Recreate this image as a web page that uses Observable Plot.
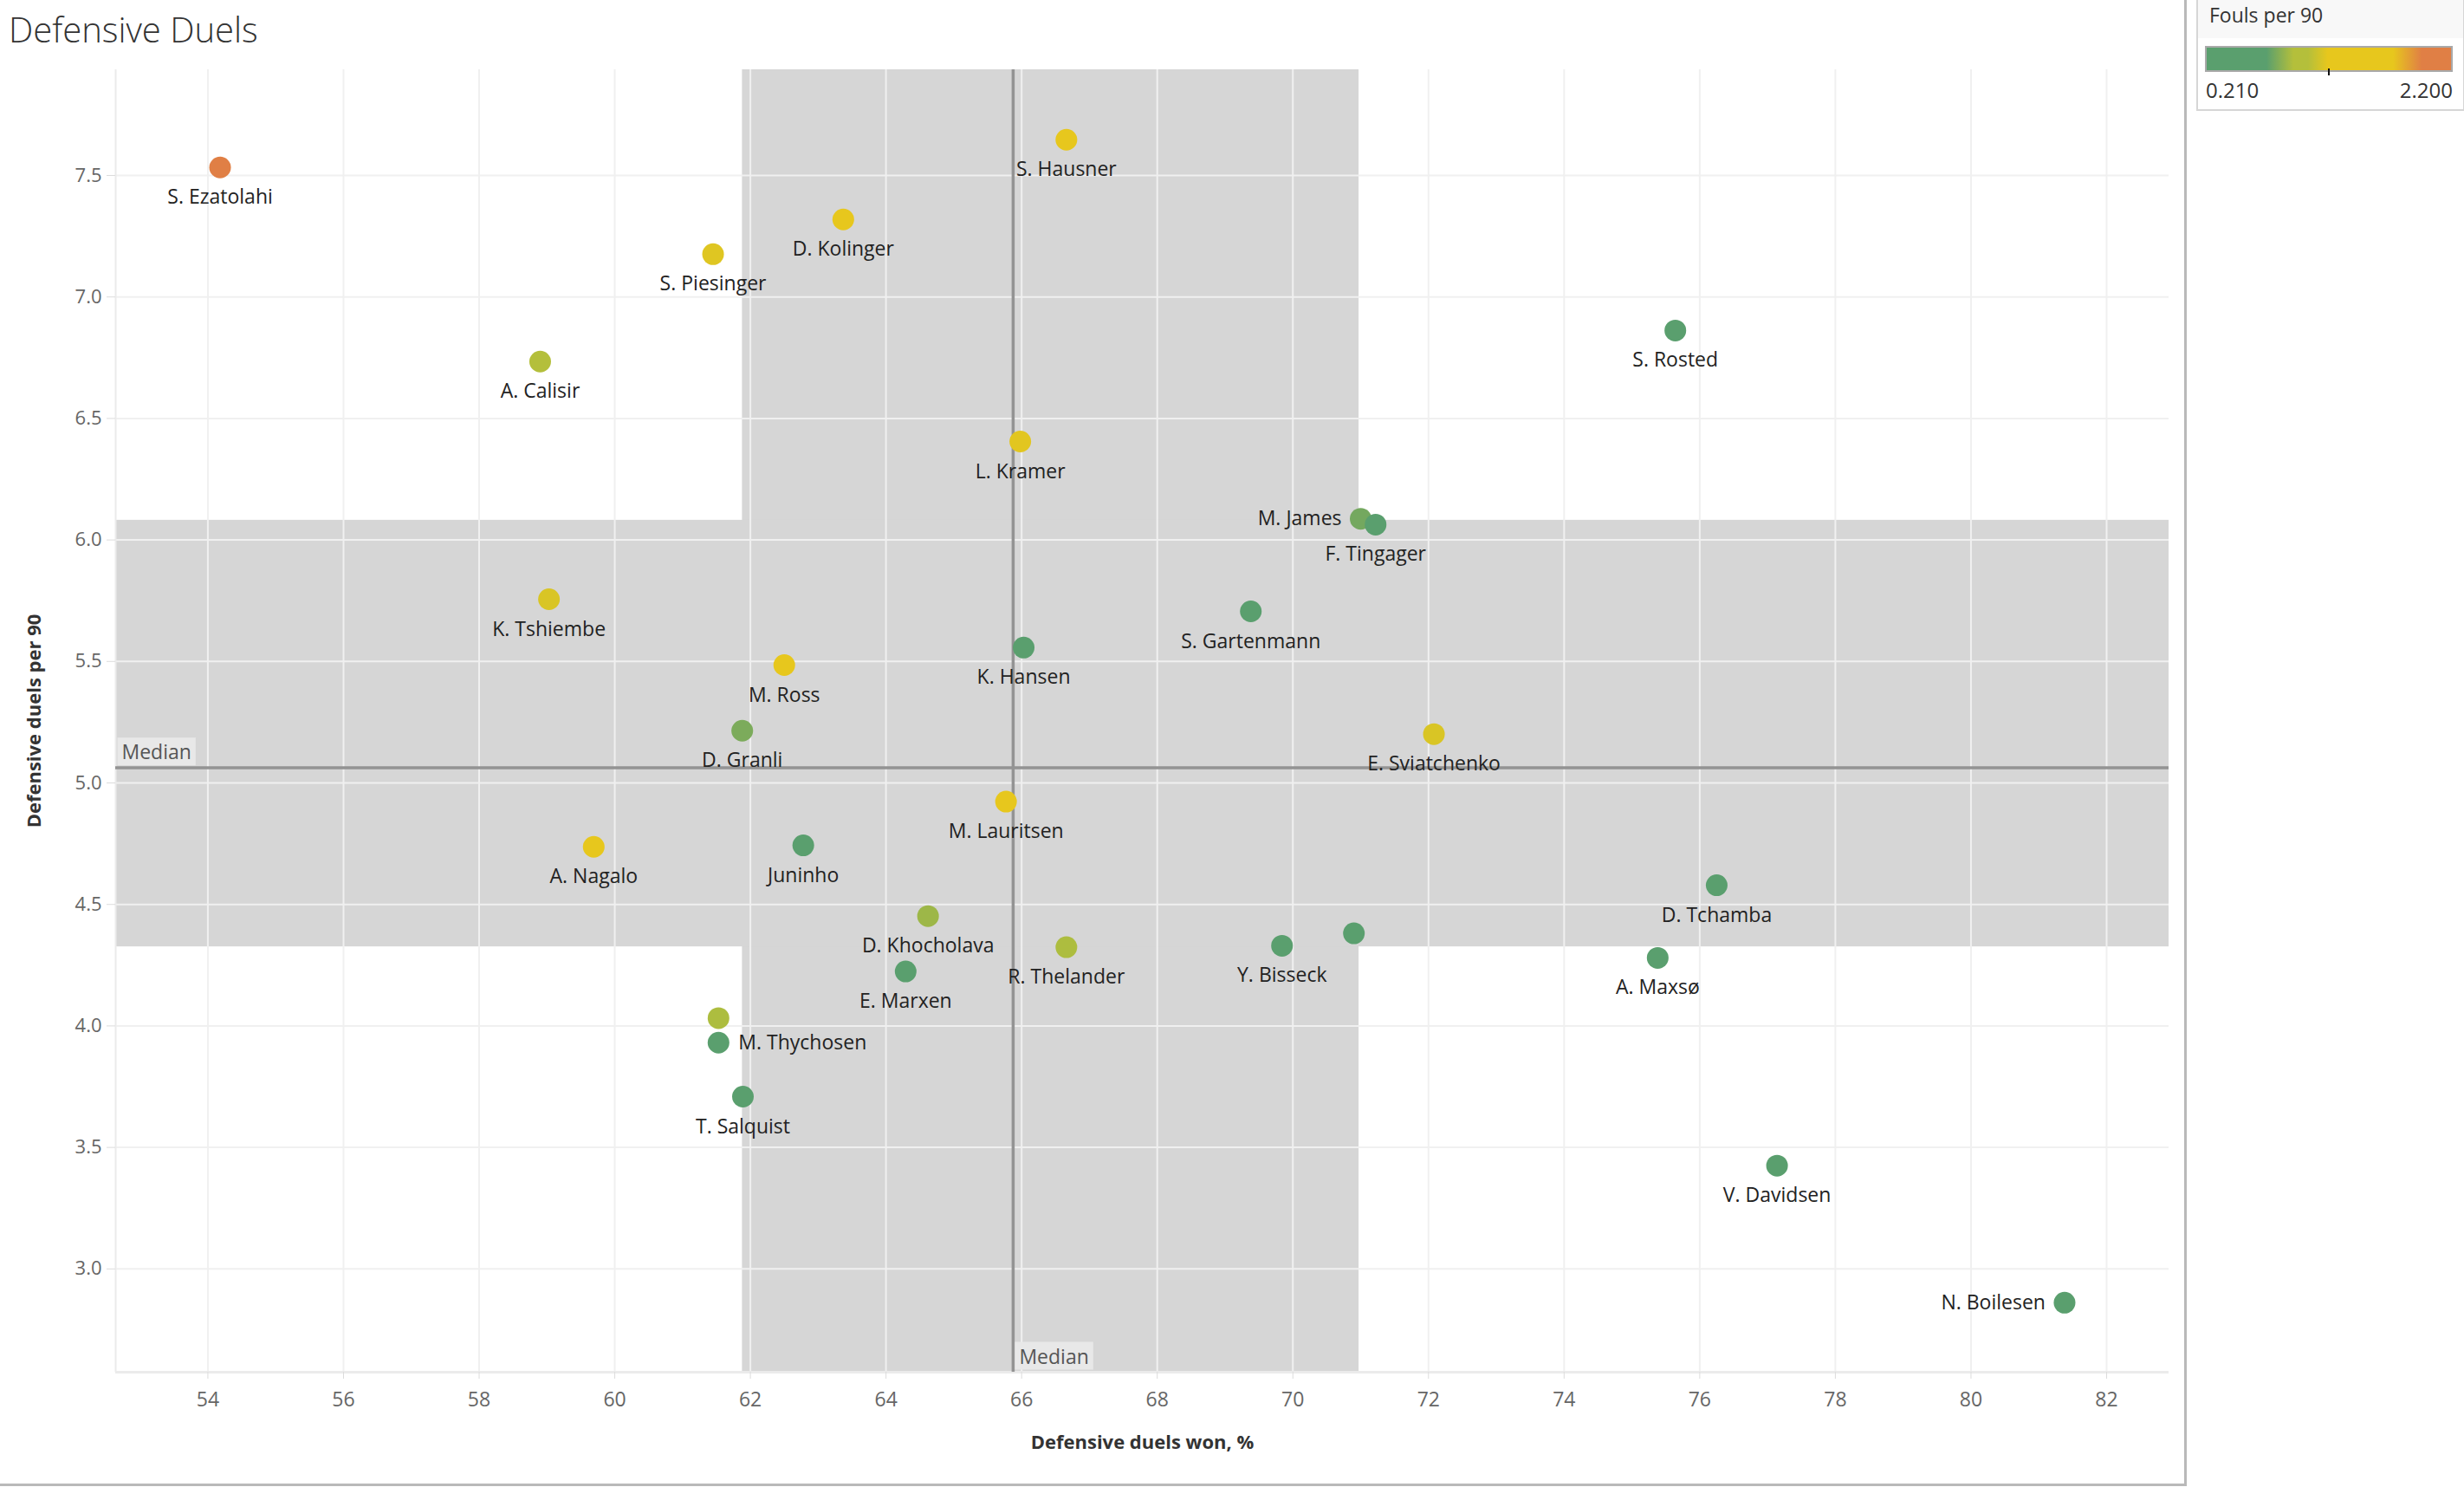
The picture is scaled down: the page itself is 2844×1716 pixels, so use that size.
<!DOCTYPE html>
<html>
<head>
<meta charset="utf-8">
<script src="https://cdn.jsdelivr.net/npm/d3@7"></script>
<script src="https://cdn.jsdelivr.net/npm/@observablehq/plot@0.6"></script>
<style>
  html, body { margin: 0; padding: 0; background: #fff; }
  body { width: 2844px; height: 1716px; position: relative; overflow: hidden; font-family: "Open Sans", "Noto Sans", sans-serif; }
  #title { position: absolute; left: 10px; top: 14px; font-size: 40px; line-height: 40px; font-weight: 300; color: #333; white-space: nowrap; }
  #frame { position: absolute; left: 0; top: 0; width: 2521px; height: 1712px; border-right: 3px solid #b9b9b9; border-bottom: 3px solid #b9b9b9; pointer-events: none; }
  #chart { position: absolute; left: 0; top: 70px; }
  #legend { position: absolute; left: 2535px; top: -2px; width: 306px; height: 126px; border: 2px solid #d6d6d6; background: #fff; }
  #legend-head { position: absolute; left: 0; top: 0; width: 306px; height: 44px; background: #f8f8f8; }
  #legend-title { position: absolute; left: 13px; top: 6px; font-size: 23px; line-height: 23px; color: #333; white-space: nowrap; }
  #ramp { position: absolute; left: 8px; top: 53px; width: 282px; height: 26px; border: 2px solid #a9a9a9; }
  #ramp-tick { position: absolute; top: 79px; width: 2px; height: 8px; background: #111; }
  .legend-label { position: absolute; top: 92px; font-size: 24px; line-height: 24px; color: #333; }
</style>
</head>
<body>
<div id="title">Defensive Duels</div>
<div id="chart"></div>
<div id="frame"></div>
<div id="legend">
  <div id="legend-head"><div id="legend-title">Fouls per 90</div></div>
  <div id="ramp"></div>
  <div id="ramp-tick"></div>
  <div class="legend-label" id="legend-min" style="left:9px"></div>
  <div class="legend-label" id="legend-max" style="right:12px"></div>
</div>
<script>
// ---- data ----
const players = [
  "S. Ezatolahi", "S. Hausner", "D. Kolinger", "S. Piesinger", "A. Calisir",
  "S. Rosted", "L. Kramer", "M. James", "F. Tingager", "K. Tshiembe",
  "S. Gartenmann", "M. Ross", "K. Hansen", "D. Granli", "E. Sviatchenko",
  "M. Lauritsen", "A. Nagalo", "Juninho", "D. Tchamba", "D. Khocholava",
  "R. Thelander", "Y. Bisseck", "", "A. Maxsø", "E. Marxen",
  "", "M. Thychosen", "T. Salquist", "V. Davidsen", "N. Boilesen"
];
const duelsWon = [
  54.18, 66.66, 63.37, 61.45, 58.90,
  75.64, 65.98, 71.00, 71.22, 59.03,
  69.38, 62.50, 66.03, 61.88, 72.08,
  65.77, 59.69, 62.78, 76.25, 64.62,
  66.66, 69.84, 70.90, 75.38, 64.29,
  61.53, 61.53, 61.89, 77.14, 81.38
];
const duelsPer90 = [
  7.533, 7.647, 7.319, 7.176, 6.734,
  6.862, 6.405, 6.087, 6.063, 5.756,
  5.706, 5.485, 5.557, 5.215, 5.201,
  4.923, 4.737, 4.743, 4.579, 4.452,
  4.324, 4.330, 4.381, 4.280, 4.224,
  4.032, 3.931, 3.709, 3.425, 2.861
];
const foulsPer90 = [
  2.20, 1.50, 1.45, 1.17, 0.97,
  0.45, 1.18, 0.76, 0.40, 1.15,
  0.42, 1.45, 0.55, 0.78, 1.15,
  1.40, 1.40, 0.50, 0.40, 0.86,
  0.90, 0.45, 0.45, 0.35, 0.45,
  0.90, 0.40, 0.40, 0.30, 0.21
];
const xTicks = [54, 56, 58, 60, 62, 64, 66, 68, 70, 72, 74, 76, 78, 80, 82];
const yTicks = [3.0, 3.5, 4.0, 4.5, 5.0, 5.5, 6.0, 6.5, 7.0, 7.5];
const xDomain = [52.64, 82.92];
const yDomain = [2.575, 7.935];
const labelLeft = ["M. James", "N. Boilesen"];
const labelRight = ["M. Thychosen"];
const foulStops = [0.21, 0.698, 0.916, 1.034, 1.195, 1.728, 1.961, 2.2];
const foulColors = ["#5a9f6e", "#5a9f6e", "#b4bf3b", "#b4bf3b", "#e7c71d", "#e7c71d", "#e07f45", "#e07f45"];
const foulLegendLabels = ["0.210", "2.200"];

// ---- derived ----
const data = players.map((p, i) => ({player: p, won: duelsWon[i], duels: duelsPer90[i], fouls: foulsPer90[i]}));
const xMed = d3.median(duelsWon), yMed = d3.median(duelsPer90);
const xQ1 = d3.quantile(duelsWon, 0.25), xQ3 = d3.quantile(duelsWon, 0.75);
const yQ1 = d3.quantile(duelsPer90, 0.25), yQ3 = d3.quantile(duelsPer90, 0.75);

const labelsBelow = data.filter(d => d.player && !labelLeft.includes(d.player) && !labelRight.includes(d.player));
const labelsL = data.filter(d => labelLeft.includes(d.player));
const labelsR = data.filter(d => labelRight.includes(d.player));

const chart = Plot.plot({
  width: 2521,
  height: 1642,
  marginTop: 10,
  marginBottom: 129,
  marginLeft: 133,
  marginRight: 18,
  style: {fontFamily: '"Open Sans", "Noto Sans", sans-serif', background: "#fff", overflow: "visible"},
  x: {domain: xDomain},
  y: {domain: yDomain},
  color: {type: "linear", domain: foulStops, range: foulColors, interpolate: "rgb", clamp: true},
  marks: [
    Plot.rect([{x1: xQ1, x2: xQ3, y1: yDomain[0], y2: yDomain[1]}], {x1: "x1", x2: "x2", y1: "y1", y2: "y2", fill: "#d6d6d6"}),
    Plot.rect([{x1: xDomain[0], x2: xDomain[1], y1: yQ1, y2: yQ3}], {x1: "x1", x2: "x2", y1: "y1", y2: "y2", fill: "#d6d6d6"}),
    Plot.gridX(xTicks, {stroke: "#f0f0f0", strokeOpacity: 1, strokeWidth: 2}),
    Plot.gridY(yTicks, {stroke: "#f0f0f0", strokeOpacity: 1, strokeWidth: 2}),
    Plot.ruleX([xDomain[0]], {stroke: "#ebebeb", strokeWidth: 2}),
    Plot.ruleY([yDomain[0]], {stroke: "#ebebeb", strokeWidth: 3}),
    Plot.axisX(xTicks, {anchor: "bottom", tickSize: 8, tickPadding: 15, stroke: "#dcdcdc", fill: "#666", fontSize: 23, label: null, tickFormat: d => String(d)}),
    Plot.axisY(yTicks, {anchor: "left", tickSize: 10, tickPadding: 6, stroke: "#dcdcdc", fill: "#666", fontSize: 22, label: null, tickFormat: d3.format(".1f")}),
    Plot.text(["Defensive duels won, %"], {text: d => d, frameAnchor: "bottom", textAnchor: "middle", lineAnchor: "bottom", dy: 88, fontSize: 22, fontWeight: "bold", fill: "#333"}),
    Plot.text(["Defensive duels per 90"], {text: d => d, frameAnchor: "left", textAnchor: "middle", lineAnchor: "middle", rotate: -90, dx: -94, fontSize: 22, fontWeight: "bold", fill: "#333"}),
    Plot.ruleX([xMed], {stroke: "#939393", strokeWidth: 3.5}),
    Plot.ruleY([yMed], {stroke: "#939393", strokeWidth: 3.5}),
    Plot.dot(data, {x: "won", y: "duels", r: 12.5, fill: "fouls", stroke: "none"}),
    Plot.text(labelsBelow, {x: "won", y: "duels", text: "player", dy: 42, lineAnchor: "bottom", fontSize: 23, fill: "#222"}),
    Plot.text(labelsL, {x: "won", y: "duels", text: "player", dx: -22, textAnchor: "end", lineAnchor: "middle", fontSize: 23, fill: "#222"}),
    Plot.text(labelsR, {x: "won", y: "duels", text: "player", dx: 23, textAnchor: "start", lineAnchor: "middle", fontSize: 23, fill: "#222"}),
    Plot.text([{v: xMed}], {x: "v", text: () => "Median", frameAnchor: "bottom", textAnchor: "start", lineAnchor: "bottom", dx: 7, dy: -10, fontSize: 23, fill: "#555"}),
    Plot.text([{v: yMed}], {y: "v", text: () => "Median", frameAnchor: "left", textAnchor: "start", lineAnchor: "bottom", dx: 7, dy: -10, fontSize: 23, fill: "#555"})
  ]
});
document.getElementById("chart").appendChild(chart);

// background boxes behind the "Median" reference labels
const svgns = "http://www.w3.org/2000/svg";
chart.querySelectorAll("text").forEach(t => {
  if (t.textContent === "Median") {
    const b = t.getBBox();
    const r = document.createElementNS(svgns, "rect");
    r.setAttribute("x", b.x - 5);
    r.setAttribute("y", b.y);
    r.setAttribute("width", b.width + 10);
    r.setAttribute("height", b.height);
    r.setAttribute("fill", "#e8e8e8");
    if (t.getAttribute("transform")) r.setAttribute("transform", t.getAttribute("transform"));
    t.parentNode.insertBefore(r, t);
  }
});

// legend
const lo = foulStops[0], hi = foulStops[foulStops.length - 1];
const grad = foulStops.map((v, i) => `${foulColors[i]} ${((v - lo) / (hi - lo) * 100).toFixed(1)}%`).join(", ");
document.getElementById("ramp").style.background = `linear-gradient(to right, ${grad})`;
document.getElementById("ramp-tick").style.left = (10 + 0.5 * 282 - 1) + "px";
document.getElementById("legend-min").textContent = foulLegendLabels[0];
document.getElementById("legend-max").textContent = foulLegendLabels[1];
</script>
</body>
</html>
